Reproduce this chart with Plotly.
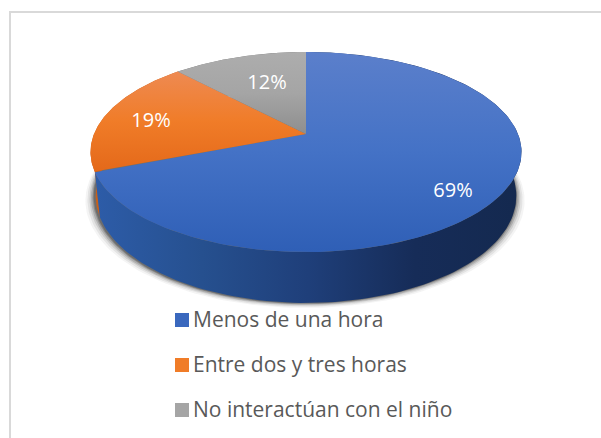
import numpy as np
import plotly.graph_objects as go

categories = ["Menos de una hora", "Entre dos y tres horas", "No interactúan con el niño"]
values = [69, 19, 12]
value_labels = ["69%", "19%", "12%"]

top_grad = [["#2f5fb6", "#4472c6", "#5b7fcb"], ["#e4691a", "#f07c28", "#ee8a52"], ["#8e8e8e", "#a5a5a5", "#adadad"]]
side_grad = [["#2d5ca8", "#26508f", "#1f3f7a", "#162c58", "#14294f"],
             ["#c8601a", "#c8601a"], ["#777777", "#777777"]]
legend_colors = ["#3a68be", "#f07c28", "#a5a5a5"]

# pie projection (perspective view of a disc)
CX, APEX_Y = 306, 134
A, B, K = 212, 96.8, 0.18
BOTTOM_SX, BOTTOM_SY, BOTTOM_Y = 0.976, 1.07, 176.6
LABEL_XY = [(453, 192), (151, 122), (267, 84)]
LEGEND_MARK_X, LEGEND_TEXT_X = 182, 193
LEGEND_Y = [320, 365, 410]
LEGEND_TEXT_DY = 2


def project(deg, sx=1.0, sy=1.0, cy=APEX_Y):
    t = np.radians(deg)
    u, v = np.sin(t), np.cos(t)
    w = 1 + K * v
    return CX + sx * A * u / w, cy - sy * B * v / w


def grad(kind, cols):
    n = len(cols) - 1
    return dict(type=kind, colorscale=[[j / n, c] for j, c in enumerate(cols)])


fig = go.Figure()

edges = np.concatenate([[0], np.cumsum(values)]) * 3.6

# soft shadow under the rim
full = np.linspace(0, 360, 241)
for grow, alpha in [(9, 0.05), (7, 0.08), (5, 0.12), (3.5, 0.18), (2, 0.25), (1, 0.30)]:
    x, y = project(full, BOTTOM_SX, BOTTOM_SY, BOTTOM_Y)
    x = CX - 1 + (x - CX) * (1 + grow / 205)
    y = y + grow * 0.55
    fig.add_trace(go.Scatter(x=x, y=y, mode="lines", fill="toself", line=dict(width=0),
                             fillcolor=f"rgba(40,40,40,{alpha})", showlegend=False, hoverinfo="skip"))

# sides, back slices first
for i in [2, 1, 0]:
    d = np.linspace(edges[i], edges[i + 1], 160)
    x1, y1 = project(d)
    x2, y2 = project(d[::-1], BOTTOM_SX, BOTTOM_SY, BOTTOM_Y)
    fig.add_trace(go.Scatter(x=np.r_[x1, x2], y=np.r_[y1, y2], mode="lines", fill="toself",
                             line=dict(width=0), fillgradient=grad("horizontal", side_grad[i]),
                             showlegend=False, hoverinfo="skip"))

# top faces
for i in range(3):
    d = np.linspace(edges[i], edges[i + 1], 200)
    x, y = project(d)
    fig.add_trace(go.Scatter(x=np.r_[CX, x, CX], y=np.r_[APEX_Y, y, APEX_Y], mode="lines", fill="toself",
                             line=dict(width=0), fillgradient=grad("vertical", top_grad[i]),
                             showlegend=False, hoverinfo="skip"))

# data labels
fig.add_trace(go.Scatter(x=[p[0] for p in LABEL_XY], y=[p[1] for p in LABEL_XY], mode="text",
                         text=value_labels, textposition="middle center",
                         textfont=dict(family="Open Sans", size=20, color="white"),
                         showlegend=False, hoverinfo="skip"))

# legend
fig.add_trace(go.Scatter(x=[LEGEND_MARK_X] * 3, y=LEGEND_Y, mode="markers",
                         marker=dict(symbol="square", size=14, color=legend_colors, line=dict(width=0)),
                         showlegend=False, hoverinfo="skip"))
fig.add_trace(go.Scatter(x=[LEGEND_TEXT_X] * 3, y=[v + LEGEND_TEXT_DY for v in LEGEND_Y], mode="text", text=categories,
                         textposition="middle right",
                         textfont=dict(family="Open Sans", size=21, color="#595959"),
                         showlegend=False, hoverinfo="skip"))

fig.update_layout(
    width=601, height=438, margin=dict(l=0, r=0, t=0, b=0),
    paper_bgcolor="white", plot_bgcolor="white", showlegend=False,
    xaxis=dict(range=[0, 601], visible=False, fixedrange=True),
    yaxis=dict(range=[438, 0], visible=False, fixedrange=True),
    shapes=[dict(type="rect", xref="x", yref="y", x0=10, x1=700, y0=12, y1=500,
                 line=dict(color="#d9d9d9", width=2), layer="below")],
)
fig.write_html("out.html", config=dict(displayModeBar=False),
               post_script="document.body.style.margin='0';document.body.style.overflow='hidden';")
